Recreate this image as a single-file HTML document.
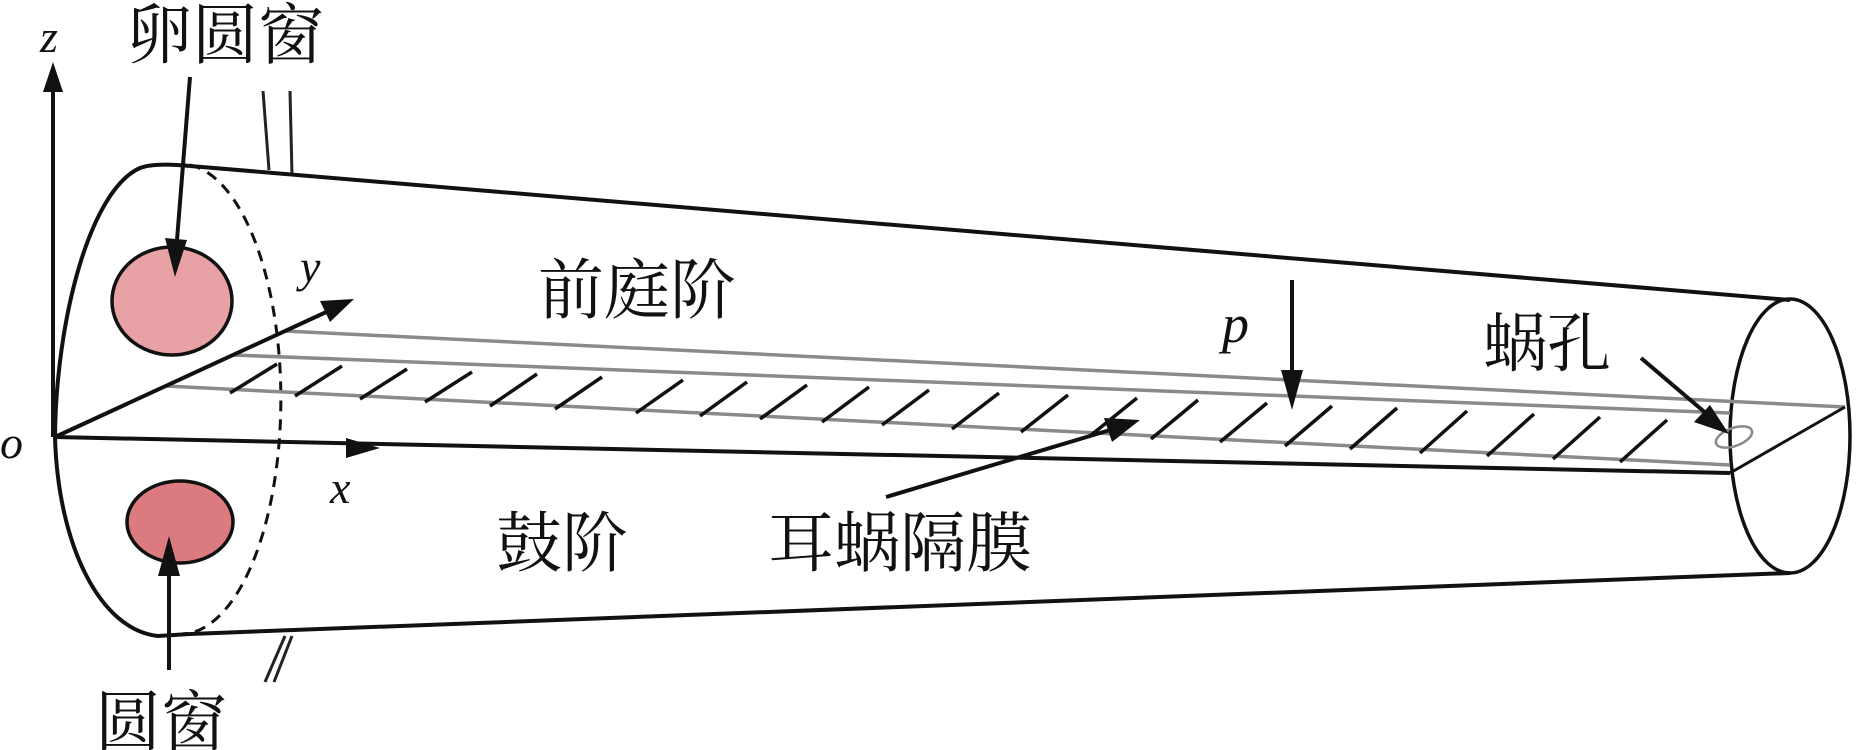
<!DOCTYPE html>
<html><head><meta charset="utf-8"><style>
html,body{margin:0;padding:0;background:#fff;}
svg{display:block;}
.t{font-family:"Liberation Serif","Noto Serif CJK SC","Noto Sans CJK SC",serif;fill:#111;}
.i{font-family:"Liberation Serif",serif;font-style:italic;fill:#111;}
</style></head><body>
<svg width="1861" height="750" viewBox="0 0 1861 750" xmlns="http://www.w3.org/2000/svg">
<!-- small lines above/below -->
<g stroke="#222" stroke-width="3" fill="none">
<line x1="263" y1="91" x2="269" y2="170"/>
<line x1="290" y1="91" x2="292" y2="175"/>
<line x1="285" y1="636" x2="265" y2="682"/>
<line x1="292" y1="636" x2="274" y2="682"/>
</g>
<!-- tube outline -->
<g stroke="#111" stroke-width="4" fill="none">
<path d="M190,166 C170,164 150,164 140,168 C90,190 56,320 55,437 C58,545 100,630 158,636 L190,634"/>
<line x1="190" y1="166" x2="1790" y2="300"/>
<line x1="190" y1="634" x2="1790" y2="573"/>
<ellipse cx="1790" cy="436" rx="60" ry="137" stroke-width="3.5"/>
</g>
<path d="M190,165 A100 235 0 0 1 182,634" stroke="#111" stroke-width="3" fill="none" stroke-dasharray="11,8"/>
<!-- pink windows -->
<ellipse cx="172" cy="301" rx="60" ry="54" fill="#e8a2a5" stroke="#111" stroke-width="3.5"/>
<ellipse cx="180" cy="522" rx="53" ry="41" fill="#dc7b7f" stroke="#111" stroke-width="3.5"/>
<!-- plate -->
<g stroke="#8a8a8a" stroke-width="3.5" fill="none">
<line x1="285" y1="331" x2="1845" y2="407"/>
<line x1="233" y1="355" x2="1730" y2="413"/>
<line x1="166" y1="386" x2="1730" y2="465"/>
</g>
<line x1="1730" y1="473" x2="1845" y2="407" stroke="#111" stroke-width="3"/>
<ellipse cx="1734" cy="437" rx="19" ry="9" transform="rotate(-20 1734 437)" fill="none" stroke="#888" stroke-width="2.5"/>
<!-- hatching -->
<g stroke="#111" stroke-width="3.5">
<line x1="230" y1="393" x2="277" y2="364"/>
<line x1="295" y1="396" x2="342" y2="366"/>
<line x1="360" y1="399" x2="407" y2="369"/>
<line x1="425" y1="402" x2="472" y2="372"/>
<line x1="490" y1="406" x2="537" y2="374"/>
<line x1="555" y1="409" x2="602" y2="377"/>
<line x1="636" y1="413" x2="683" y2="380"/>
<line x1="700" y1="416" x2="747" y2="382"/>
<line x1="760" y1="419" x2="807" y2="385"/>
<line x1="822" y1="422" x2="869" y2="387"/>
<line x1="882" y1="425" x2="929" y2="390"/>
<line x1="952" y1="429" x2="999" y2="393"/>
<line x1="1021" y1="432" x2="1068" y2="395"/>
<line x1="1090" y1="436" x2="1137" y2="398"/>
<line x1="1151" y1="439" x2="1198" y2="400"/>
<line x1="1220" y1="442" x2="1267" y2="403"/>
<line x1="1285" y1="446" x2="1332" y2="406"/>
<line x1="1350" y1="449" x2="1397" y2="408"/>
<line x1="1420" y1="453" x2="1467" y2="411"/>
<line x1="1487" y1="456" x2="1534" y2="414"/>
<line x1="1553" y1="459" x2="1600" y2="417"/>
<line x1="1620" y1="462" x2="1667" y2="420"/>
</g>
<!-- axes -->
<g stroke="#111" stroke-width="4" fill="none">
<line x1="53" y1="437" x2="53" y2="80"/>
<line x1="55" y1="437" x2="335" y2="308"/>
<line x1="55" y1="437" x2="1730" y2="473"/>
<line x1="190" y1="77" x2="177" y2="240"/>
<line x1="169" y1="670" x2="169" y2="575"/>
<line x1="1292" y1="280" x2="1292" y2="375"/>
<line x1="886" y1="497" x2="1110" y2="430"/>
<line x1="1641" y1="358" x2="1708" y2="415"/>
</g>
<g fill="#111">
<polygon points="53,62 43,92 63,92"/>
<polygon points="354,299 320,301 330,322"/>
<polygon points="380,448 346,438 346,458"/>
<polygon points="175,277 165,238 187,240"/>
<polygon points="169,536 158,576 180,576"/>
<polygon points="1292,410 1281,370 1303,370"/>
<polygon points="1140,420 1104,418 1112,442"/>
<polygon points="1729,434 1694,422 1710,405"/>
</g>
<!-- labels -->
<text class="i" x="40" y="52" font-size="46">z</text>
<text class="i" x="0" y="458" font-size="46">o</text>
<text class="i" x="300" y="282" font-size="46">y</text>
<text class="i" x="330" y="503" font-size="46">x</text>
<text class="i" x="1222" y="342" font-size="54">p</text>
<text class="t" x="126" y="58" font-size="66">卵圆窗</text>
<text class="t" x="95" y="745" font-size="66">圆窗</text>
<text class="t" x="538" y="313" font-size="66">前庭阶</text>
<text class="t" x="496" y="566" font-size="66">鼓阶</text>
<text class="t" x="768" y="566" font-size="66">耳蜗隔膜</text>
<text class="t" x="1483" y="366" font-size="64">蜗孔</text>
</svg>
</body></html>
